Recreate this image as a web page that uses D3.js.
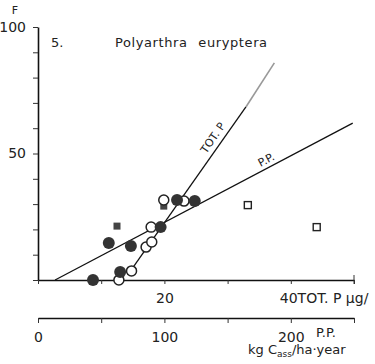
<!DOCTYPE html>
<html>
<head>
<meta charset="utf-8">
<script src="https://cdn.jsdelivr.net/npm/d3@7"></script>
<style>
  body { margin: 0; background: #fff; }
  svg { display: block; }
  text { font-family: "DejaVu Sans", sans-serif; fill: #222; }
</style>
</head>
<body>
<div id="chart"></div>
<script>
// chart size
var width = 375;
var height = 364;

// data (x = TOT.P ug/l, y = F)
var filledCircleX = [8.7, 13.0, 11.2, 14.7, 19.4, 22.0, 24.8];
var filledCircleF = [0, 3.2, 14.6, 13.4, 20.9, 31.6, 31.2];
var openCircleX = [12.8, 14.8, 17.1, 18.0, 17.9, 19.9, 23.1];
var openCircleF = [0, 3.6, 13.0, 15.0, 20.9, 31.6, 31.2];
var filledSquareX = [12.5, 19.9];
var filledSquareF = [21.3, 29.2];
var openSquareX = [33.2, 44.1];
var openSquareF = [29.6, 20.9];

// regression lines (end points)
var totPLine = [[14.2, 2.0], [32.9, 68.4]];
var totPLineFaint = [[32.9, 68.4], [37.4, 85.8]];
var ppLine = [[2.7, 0], [49.8, 62]];

// axis ticks
var yTicks = [0, 10, 20, 30, 40, 50, 60, 70, 80, 90, 100];
var yLabels = [50, 100];
var totPTicks = [0, 10, 20, 30, 40, 50];
var ppTicks = [0, 50, 100, 150, 200, 250];
var ppLabels = [0, 100, 200];

var svg = d3.select("#chart").append("svg")
    .attr("width", width)
    .attr("height", height);

var x = d3.scaleLinear().domain([0, 50]).range([38, 354]);
var xPP = d3.scaleLinear().domain([0, 250]).range([38, 354]);
var y = d3.scaleLinear().domain([0, 100]).range([280, 27]);

// y axis
var yAxis = svg.append("g")
    .attr("transform", "translate(38,0)")
    .call(d3.axisLeft(y).tickValues(yTicks).tickSize(5).tickSizeOuter(0).tickPadding(7)
        .tickFormat(function (d) { return yLabels.indexOf(d) >= 0 ? d : ""; }));
yAxis.select(".domain").attr("stroke", "#111").attr("stroke-width", 1.6);
yAxis.selectAll(".tick line").attr("stroke", "#333").attr("stroke-width", 1);
yAxis.selectAll("text").attr("font-size", 14).attr("fill", "#222")
    .attr("font-family", "DejaVu Sans, sans-serif").attr("dy", "0.3em");

svg.append("text").attr("x", 15).attr("y", 14).attr("font-size", 11)
    .attr("text-anchor", "middle").text("F");

// TOT.P axis
var xAxis = svg.append("g")
    .attr("transform", "translate(0,280)")
    .call(d3.axisBottom(x).tickValues(totPTicks).tickSize(4).tickSizeOuter(0).tickPadding(9)
        .tickFormat(function (d) { return d == 20 ? d : ""; }));
xAxis.select(".domain").attr("stroke", "#111").attr("stroke-width", 1.6);
xAxis.selectAll(".tick line").attr("stroke", "#333");
xAxis.selectAll("text").attr("font-size", 14).attr("fill", "#222")
    .attr("font-family", "DejaVu Sans, sans-serif");
svg.append("line").attr("x1", x(50)).attr("x2", x(50))
    .attr("y1", 275).attr("y2", 284).attr("stroke", "#333");
svg.append("text").attr("x", x(40) - 11).attr("y", 303).attr("font-size", 14)
    .text("40TOT. P µg/");

// P.P. axis
var ppAxis = svg.append("g")
    .attr("transform", "translate(0,318)")
    .call(d3.axisBottom(xPP).tickValues(ppTicks).tickSize(5).tickSizeOuter(0).tickPadding(9)
        .tickFormat(function (d) { return ppLabels.indexOf(d) >= 0 ? d : ""; }));
ppAxis.select(".domain").attr("stroke", "#111").attr("stroke-width", 1.6);
ppAxis.selectAll(".tick line").attr("stroke", "#333");
ppAxis.selectAll("text").attr("font-size", 14).attr("fill", "#222")
    .attr("font-family", "DejaVu Sans, sans-serif");
ppAxis.selectAll(".tick").filter(function (d) { return d == 0; })
    .select("text").attr("fill", "#888");

svg.append("text").attr("x", 316).attr("y", 337).attr("font-size", 13).text("P.P.");
var unit = svg.append("text").attr("x", 248).attr("y", 354).attr("font-size", 13);
unit.append("tspan").text("kg C");
unit.append("tspan").attr("font-size", 9).attr("dy", 3).text("ass");
unit.append("tspan").attr("dy", -3).text("/ha·year");

// title
svg.append("text").attr("x", 51).attr("y", 47).attr("font-size", 13).text("5.");
svg.append("text").attr("x", 115).attr("y", 47).attr("font-size", 13)
    .attr("letter-spacing", 0.6).attr("word-spacing", 6)
    .text("Polyarthra euryptera");

// regression lines
var line = d3.line()
    .x(function (d) { return x(d[0]); })
    .y(function (d) { return y(d[1]); });
svg.append("path").attr("d", line(totPLine)).attr("fill", "none")
    .attr("stroke", "#111").attr("stroke-width", 1.3);
svg.append("path").attr("d", line(totPLineFaint)).attr("fill", "none")
    .attr("stroke", "#999").attr("stroke-width", 1.6);
svg.append("path").attr("d", line(ppLine)).attr("fill", "none")
    .attr("stroke", "#111").attr("stroke-width", 1.3);

// line labels
var totAngle = Math.atan2(y(totPLine[0][1]) - y(totPLineFaint[1][1]), x(totPLineFaint[1][0]) - x(totPLine[0][0])) * 180 / Math.PI;
svg.append("text").attr("font-size", 11)
    .attr("transform", "translate(216,140) rotate(" + (-totAngle) + ")")
    .attr("text-anchor", "middle").text("TOT. P");
var ppAngle = Math.atan2(y(ppLine[0][1]) - y(ppLine[1][1]), x(ppLine[1][0]) - x(ppLine[0][0])) * 180 / Math.PI;
svg.append("text").attr("font-size", 11)
    .attr("transform", "translate(268,163) rotate(" + (-ppAngle) + ")")
    .attr("text-anchor", "middle").text("P.P.");

// points
var filled = d3.zip(filledCircleX, filledCircleF);
var open = d3.zip(openCircleX, openCircleF);
var fSq = d3.zip(filledSquareX, filledSquareF);
var oSq = d3.zip(openSquareX, openSquareF);

svg.selectAll("filledSquare").data(fSq).enter().append("rect")
    .attr("x", function (d) { return x(d[0]) - 3.5; })
    .attr("y", function (d) { return y(d[1]) - 3.5; })
    .attr("width", 7).attr("height", 7)
    .attr("fill", "#444");

svg.selectAll("openCircle").data(open).enter().append("circle")
    .attr("cx", function (d) { return x(d[0]); })
    .attr("cy", function (d) { return y(d[1]); })
    .attr("r", 5)
    .attr("fill", "#fff").attr("stroke", "#222").attr("stroke-width", 1.5);

svg.selectAll("filledCircle").data(filled).enter().append("circle")
    .attr("cx", function (d) { return x(d[0]); })
    .attr("cy", function (d) { return y(d[1]); })
    .attr("r", 6)
    .attr("fill", "#333");

svg.selectAll("openSquare").data(oSq).enter().append("rect")
    .attr("x", function (d) { return x(d[0]) - 3.5; })
    .attr("y", function (d) { return y(d[1]) - 3.5; })
    .attr("width", 7).attr("height", 7)
    .attr("fill", "#fff").attr("stroke", "#222").attr("stroke-width", 1.4);
</script>
</body>
</html>
